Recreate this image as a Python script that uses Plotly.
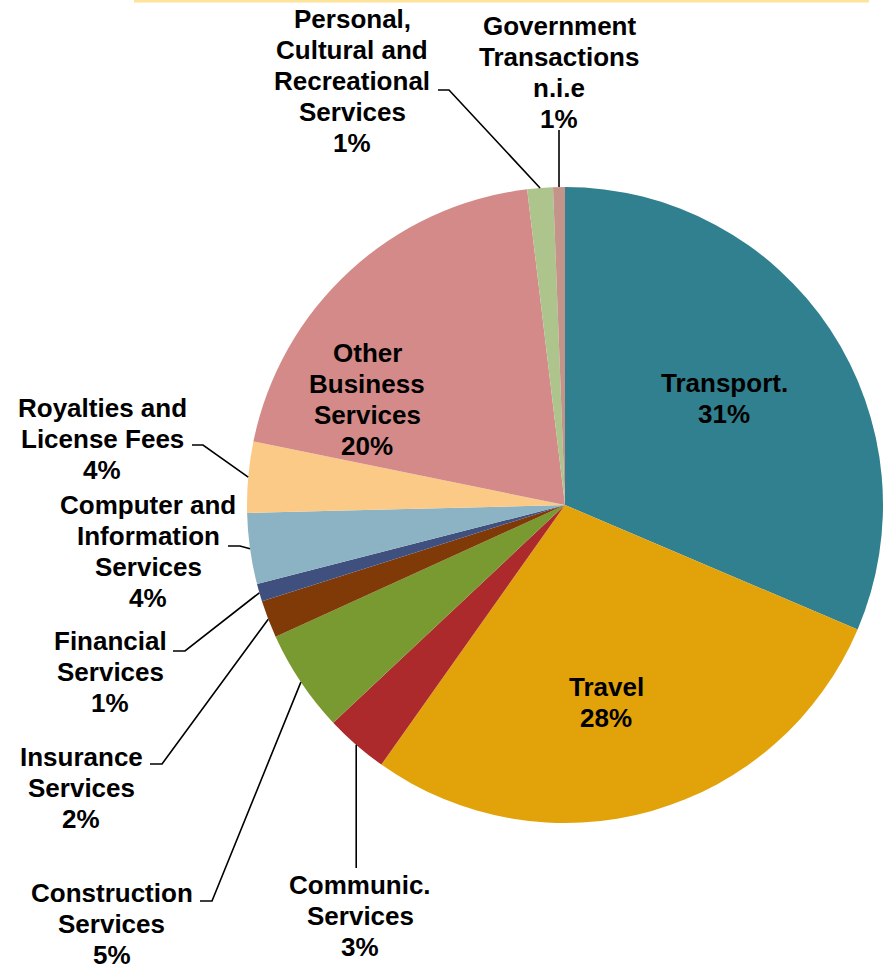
import math
import plotly.graph_objects as go

# ---- data ----
categories = [
    "Transport.", "Travel", "Communic. Services", "Construction Services",
    "Insurance Services", "Financial Services",
    "Computer and Information Services", "Royalties and License Fees",
    "Other Business Services", "Personal, Cultural and Recreational Services",
    "Government Transactions n.i.e",
]
label_lines = [
    ["Transport."], ["Travel"], ["Communic.", "Services"],
    ["Construction", "Services"], ["Insurance", "Services"],
    ["Financial", "Services"], ["Computer and", "Information", "Services"],
    ["Royalties and", "License Fees"], ["Other", "Business", "Services"],
    ["Personal,", "Cultural and", "Recreational", "Services"],
    ["Government", "Transactions", "n.i.e"],
]
shares = [31.4, 28.4, 3.2, 5.2, 1.9, 0.9, 3.6, 3.6, 19.9, 1.3, 0.6]
colors = ["#31808F", "#E2A30A", "#AC2A2B", "#789A30", "#7F3A08", "#3F507E",
          "#8CB3C3", "#FCCA87", "#D48A88", "#ADC48D", "#C4948A"]

# ---- layout geometry (pixels) ----
W, H = 883, 964
CX, CY, R = 565, 505, 318
LINE_GAP = 31

def px(x):
    return x / W

def py(y):
    return 1 - y / H

# label anchor: (x centre, y centre of first line) in px
label_pos = [(724, 383), (606, 687), (360, 885), (112, 893), (81, 757),
             (110, 641), (148, 505), (102, 408), (367, 353), (352, 19),
             (559, 26)]
# leader: ("elbow", x_text_end, x_elbow, y) or ("vert", y_end) or None
leaders = [None, None, ("vert", 868), ("elbow", 200, 212, 901),
           ("elbow", 150, 162, 764), ("elbow", 173, 185, 651),
           ("elbow", 228, 240, 546), ("elbow", 192, 203, 445), None,
           ("elbow", 438, 449, 90), ("vert", 130)]

fig = go.Figure(go.Pie(
    labels=categories, values=shares, sort=False, direction="clockwise",
    rotation=0, marker=dict(colors=colors, line=dict(width=0)),
    textinfo="none", hoverinfo="label+percent", showlegend=False,
    domain=dict(x=[px(CX - R), px(CX + R)], y=[py(CY + R), py(CY - R)]),
))

total = sum(shares)
annotations = []
shapes = []
cum = 0.0
font = dict(family="Liberation Sans, Arial", size=26, color="black",
            weight="bold")
for i, v in enumerate(shares):
    mid = (cum + v / 2) / total * 2 * math.pi
    cum += v
    ax = CX + R * math.sin(mid)
    ay = CY - R * math.cos(mid)
    pct = int(v / total * 100 + 0.5)
    lines = label_lines[i] + [f"{pct}%"]
    lx, ly = label_pos[i]
    for k, line in enumerate(lines):
        annotations.append(dict(
            x=px(lx), y=py(ly + k * LINE_GAP), xref="paper", yref="paper",
            text=line, showarrow=False, xanchor="center", yanchor="middle",
            align="center", font=font,
        ))
    ld = leaders[i]
    if ld is None:
        continue
    if ld[0] == "vert":
        shapes.append(dict(type="line", xref="paper", yref="paper",
                           x0=px(ax), y0=py(ld[1]), x1=px(ax), y1=py(ay),
                           line=dict(color="black", width=1.6)))
    else:
        _, xs, xe, yl = ld
        shapes.append(dict(type="path", xref="paper", yref="paper",
                           path=f"M {px(xs)} {py(yl)} L {px(xe)} {py(yl)} L {px(ax)} {py(ay)}",
                           line=dict(color="black", width=1.6)))

# thin border line at the top of the picture
shapes.append(dict(type="line", xref="paper", yref="paper",
                   x0=px(134), x1=px(869), y0=py(1), y1=py(1),
                   line=dict(color="#FDE49A", width=3)))

fig.update_layout(
    width=W, height=H, margin=dict(l=0, r=0, t=0, b=0),
    paper_bgcolor="white", plot_bgcolor="white",
    annotations=annotations, shapes=shapes,
)

fig.write_html(
    "out.html",
    config={"displayModeBar": False},
    post_script="document.body.style.margin='0';document.body.style.overflow='hidden';",
)
